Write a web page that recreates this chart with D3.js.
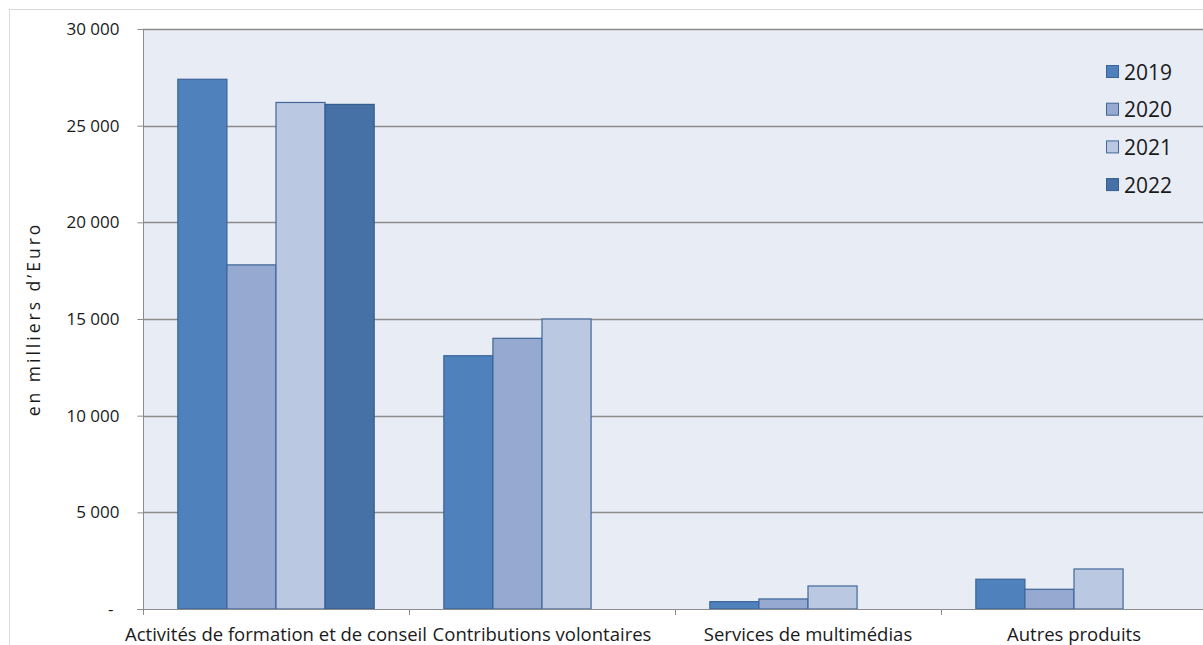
<!DOCTYPE html>
<html>
<head>
<meta charset="utf-8">
<script src="https://cdn.jsdelivr.net/npm/d3@7"></script>
<style>
  html, body { margin: 0; padding: 0; background: #fff; }
  svg { display: block; font-family: "Open Sans", "Liberation Sans", sans-serif; }
</style>
</head>
<body>
<svg id="chart" width="1203" height="645"></svg>
<script>
// Chiffre d'affaires par activité (en milliers d'euros)
const categories = [
  "Activités de formation et de conseil",
  "Contributions volontaires",
  "Services de multimédias",
  "Autres produits"
];
const years = ["2019", "2020", "2021", "2022"];
const values2019 = [27400, 13100, 380, 1540];
const values2020 = [17800, 14000, 520, 1020];
const values2021 = [26200, 15000, 1190, 2070];
const values2022 = [26100, null, null, null];
const yTicks = [0, 5000, 10000, 15000, 20000, 25000, 30000];

const seriesValues = [values2019, values2020, values2021, values2022];
const fills = ["#4f81bd", "#95a9d1", "#bac8e1", "#4571a6"];
const strokes = ["#3a639a", "#3f6597", "#42689b", "#345c8c"];

const svg = d3.select("#chart");
const W = 1203, H = 645;
const m = { left: 143, top: 29, right: W - 1207, bottom: H - 609 };

// cadre extérieur
svg.append("rect").attr("x", 9.5).attr("y", 9.5).attr("width", W).attr("height", H)
  .attr("fill", "#fff").attr("stroke", "#d9d9d9");

const x0 = d3.scaleBand().domain(categories).range([m.left, W - m.right]).paddingInner(0).paddingOuter(0);
const x1 = d3.scaleBand().domain(years).range([0, x0.bandwidth()]).paddingInner(0).paddingOuter(0.71);
const y = d3.scaleLinear().domain([0, 30000]).range([H - m.bottom, m.top]);

// fond de la zone de tracé
svg.append("rect").attr("x", m.left).attr("y", m.top)
  .attr("width", W - m.right - m.left).attr("height", H - m.bottom - m.top)
  .attr("fill", "#e8ecf5");

// quadrillage horizontal
svg.append("g").selectAll("line").data(yTicks.filter(t => t > 0)).join("line")
  .attr("x1", m.left).attr("x2", W - m.right)
  .attr("y1", d => Math.round(y(d)) + 0.5).attr("y2", d => Math.round(y(d)) + 0.5)
  .attr("stroke", "#8c8c8c").attr("stroke-width", 1.3);

// barres
const data = [];
categories.forEach((c, i) => {
  years.forEach((yr, j) => {
    const v = seriesValues[j][i];
    if (v != null) data.push({ c, yr, j, v });
  });
});
svg.append("g").selectAll("rect").data(data).join("rect")
  .attr("x", d => x0(d.c) + x1(d.yr))
  .attr("y", d => y(d.v))
  .attr("width", x1.bandwidth())
  .attr("height", d => y(0) - y(d.v))
  .attr("fill", d => fills[d.j])
  .attr("stroke", d => strokes[d.j])
  .attr("stroke-width", 1.2);

// axe vertical
const fmt = v => v === 0 ? "-" : d3.format(",")(v).replace(/,/g, "\u00a0");
const yAxis = d3.axisLeft(y).tickValues(yTicks).tickFormat(fmt).tickSize(6).tickPadding(18);
const gy = svg.append("g").attr("transform", `translate(${m.left + 0.5},0)`).call(yAxis);
gy.select(".domain").attr("stroke", "#8c8c8c").attr("d", `M0,${m.top}V${H - m.bottom}`);
gy.selectAll(".tick line").attr("stroke", "#8c8c8c");
gy.selectAll(".tick text").attr("fill", "#1a1a1a").style("font-size", "17px")
  .style("font-family", "'Open Sans', sans-serif");
gy.selectAll(".tick").filter(d => d === 0).select("text").attr("dx", -6);

// axe horizontal
const xAxis = d3.axisBottom(x0).tickSize(0).tickPadding(18);
const gx = svg.append("g").attr("transform", `translate(0,${H - m.bottom + 0.5})`).call(xAxis);
gx.select(".domain").attr("stroke", "#8c8c8c").attr("d", `M${m.left - 6},0H${W}`);
gx.selectAll(".tick text").attr("fill", "#1a1a1a").style("font-size", "18.5px")
  .style("font-family", "'Open Sans', sans-serif");
// graduations entre catégories
svg.append("g").selectAll("line").data(categories).join("line")
  .attr("x1", d => Math.round(x0(d)) + 0.5).attr("x2", d => Math.round(x0(d)) + 0.5)
  .attr("y1", H - m.bottom).attr("y2", H - m.bottom + 6)
  .attr("stroke", "#8c8c8c");

// titre de l'axe vertical
svg.append("text")
  .attr("transform", `translate(40,${(m.top + H - m.bottom) / 2}) rotate(-90)`)
  .attr("text-anchor", "middle")
  .style("font-size", "17.5px").style("letter-spacing", "3px")
  .attr("fill", "#1a1a1a")
  .text("en milliers d\u2019Euro");

// légende
const lg = svg.append("g").attr("transform", "translate(1106,72)");
years.forEach((yr, j) => {
  const g = lg.append("g").attr("transform", `translate(0,${j * 37.7})`);
  g.append("rect").attr("x", 0.5).attr("y", -6.5).attr("width", 12).attr("height", 12)
    .attr("fill", fills[j]).attr("stroke", strokes[j]);
  g.append("text").attr("x", 18).attr("y", 0).attr("dy", "0.36em")
    .style("font-size", "21px").attr("fill", "#1a1a1a").text(yr);
});
</script>
</body>
</html>
